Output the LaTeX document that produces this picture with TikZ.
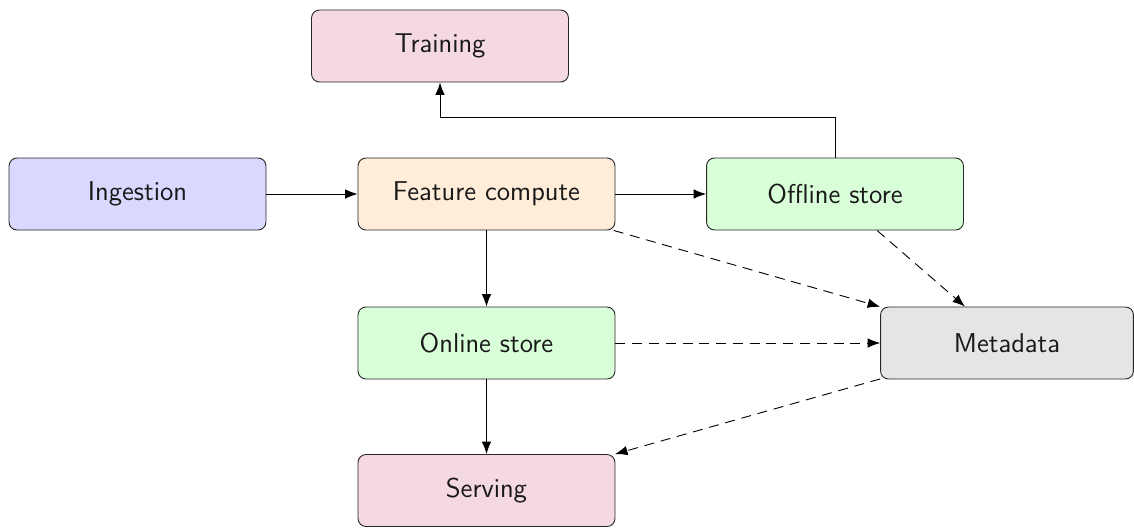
\documentclass[tikz,border=0pt]{standalone}
\usetikzlibrary{arrows.meta}

\definecolor{trainfill}{RGB}{245,217,226}
\definecolor{ingestfill}{RGB}{217,217,255}
\definecolor{computefill}{RGB}{255,236,217}
\definecolor{storefill}{RGB}{217,255,217}
\definecolor{metafill}{RGB}{229,229,229}

\tikzset{
  stage/.style={draw=black!85, line width=0.4pt, rounded corners=3.5pt,
    minimum width=113.3pt, minimum height=31.75pt, inner sep=2pt,
    font=\sffamily\large, text=black!90},
  flow/.style={-{Latex[length=5.5pt,width=4.2pt]}, line width=0.4pt},
  meta/.style={flow, dash pattern=on 4.4pt off 3pt},
}

\begin{document}
\begin{tikzpicture}[x=0.441pt, y=-0.441pt]
  \useasboundingbox (0,0) rectangle (1134,527);

  % pipeline stages
  \node[stage, fill=trainfill]   (trn) at (440,46)    {Training};
  \node[stage, fill=ingestfill]  (ing) at (137.5,194) {Ingestion};
  \node[stage, fill=computefill] (fc)  at (486.5,194) {Feature compute};
  \node[stage, fill=storefill]   (off) at (835,194)   {Offline store};
  \node[stage, fill=storefill]   (on)  at (486.5,343) {Online store};
  \node[stage, fill=metafill, minimum width=111.5pt] (md) at (1007,343) {Metadata};
  \node[stage, fill=trainfill]   (srv) at (486.5,490.5) {Serving};

  % data flow
  \draw[flow] (ing) -- (fc);
  \draw[flow] (fc) -- (off);
  \draw[flow] (fc) -- (on);
  \draw[flow] (on) -- (srv);
  \coordinate (bend) at (835,117);
  \draw[flow] (off.north) -- (bend) -| (trn.south);

  % metadata links
  \draw[meta] (fc) -- (md);
  \draw[meta] (off) -- (md);
  \draw[meta] (on) -- (md);
  \draw[meta] (md) -- (srv);
\end{tikzpicture}
\end{document}
